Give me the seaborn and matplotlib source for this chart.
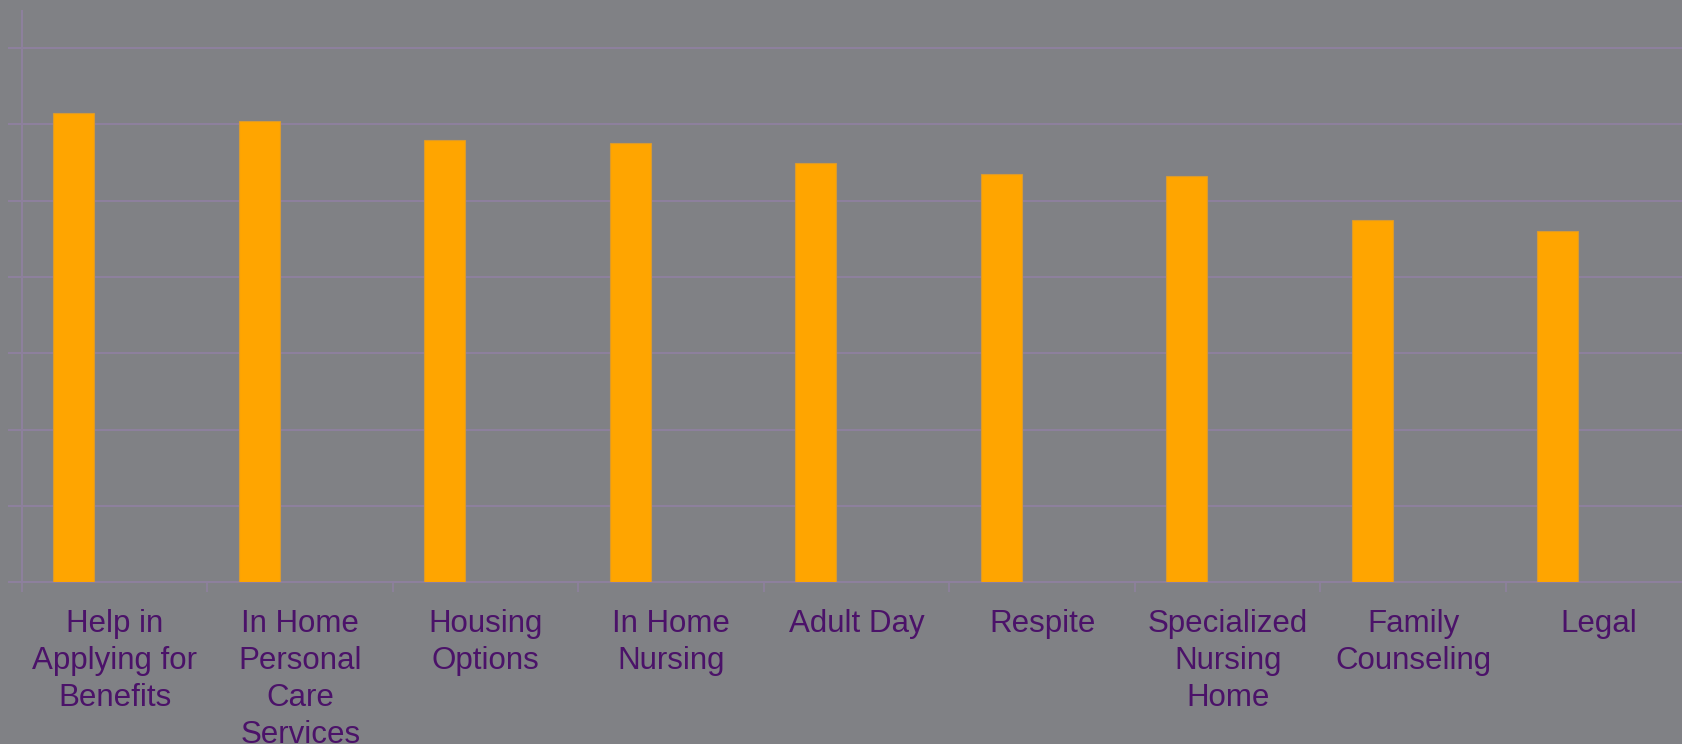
import matplotlib
matplotlib.use("Agg")
import matplotlib.pyplot as plt
import seaborn as sns
import pandas as pd
from matplotlib.ticker import FixedLocator

categories = [
    "Help in\nApplying for\nBenefits",
    "In Home\nPersonal\nCare\nServices",
    "Housing\nOptions",
    "In Home\nNursing",
    "Adult Day",
    "Respite",
    "Specialized\nNursing\nHome",
    "Family\nCounseling",
    "Legal",
]
values = [61.5, 60.5, 58.0, 57.5, 55.0, 53.5, 53.2, 47.5, 46.0]
series = ["Series 1"] * len(categories)
series_order = ["Series 1", "Series 2"]

BG = "#808185"
GRID = "#8E809E"
TEXT = "#4B1269"
BAR = "#FFA500"

sns.set_theme(style="white")
plt.rcParams["font.family"] = ["Liberation Sans", "DejaVu Sans"]

df = pd.DataFrame({"category": categories, "value": values, "series": series})

fig = plt.figure(figsize=(16.82, 7.44), dpi=100, facecolor=BG)
ax = fig.add_axes([22 / 1682, 161.7 / 744, 9 * 185.5 / 1682, (582.3 - 10.7) / 744])
ax.set_facecolor(BG)

sns.barplot(data=df, x="category", y="value", hue="series", hue_order=series_order,
            palette={"Series 1": BAR, "Series 2": BAR}, width=0.882, gap=0.5,
            dodge=True, saturation=1, edgecolor="#D99A30", linewidth=0.8,
            legend=False, ax=ax, zorder=3)

ax.set_xlim(-0.5, len(categories) - 0.5)
ax.set_ylim(0, 74.9)
ax.yaxis.set_major_locator(FixedLocator([0, 10, 20, 30, 40, 50, 60, 70]))
ax.set_yticklabels([])
ax.grid(axis="y", color=GRID, linewidth=1.4, zorder=0)
ax.grid(axis="x", visible=False)
ax.set_axisbelow(True)

ax.xaxis.set_minor_locator(FixedLocator([i - 0.5 for i in range(len(categories) + 1)]))
ax.tick_params(axis="x", which="major", length=0, pad=19, labelsize=22.5, labelcolor=TEXT)
ax.tick_params(axis="x", which="minor", length=7.2, width=1.2, color=GRID, direction="out", bottom=True)
ax.tick_params(axis="y", which="major", length=10, width=1.4, color=GRID, direction="out", left=True)
for lbl in ax.get_xticklabels():
    lbl.set_linespacing(1.31)

for s in ["top", "right"]:
    ax.spines[s].set_visible(False)
for s in ["left", "bottom"]:
    ax.spines[s].set_color(GRID)
    ax.spines[s].set_linewidth(1.4)

ax.set_xlabel("")
ax.set_ylabel("")

fig.savefig("out.png", dpi=100, facecolor=BG)
